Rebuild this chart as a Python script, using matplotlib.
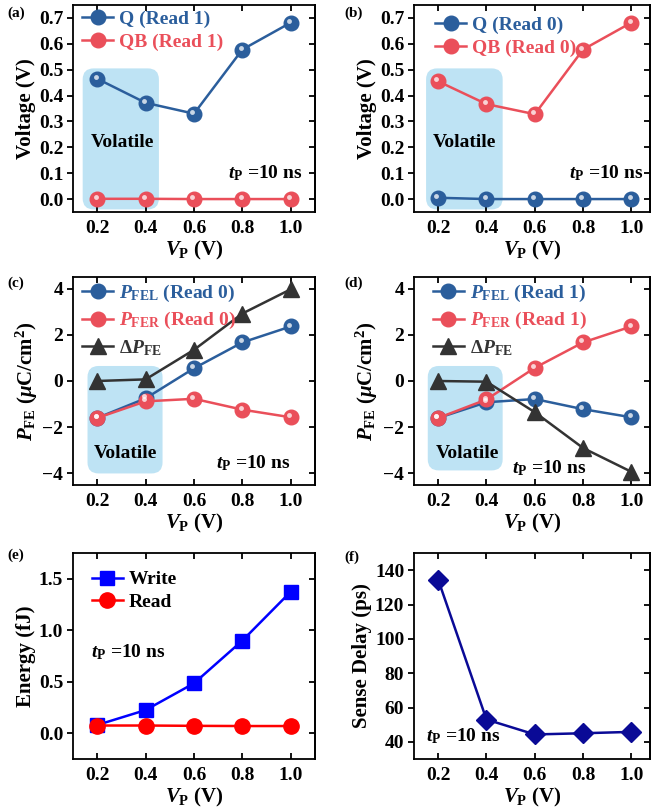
import numpy as np
import matplotlib
matplotlib.use('Agg')
import matplotlib.pyplot as plt
from matplotlib.patches import FancyBboxPatch
from matplotlib import transforms

plt.rcParams['font.family'] = ['Liberation Serif', 'DejaVu Serif']
plt.rcParams['font.weight'] = 'bold'
plt.rcParams['axes.labelweight'] = 'bold'
plt.rcParams['mathtext.fontset'] = 'custom'
plt.rcParams['mathtext.rm'] = 'Liberation Serif:bold'
plt.rcParams['mathtext.it'] = 'Liberation Serif:italic:bold'
plt.rcParams['mathtext.bf'] = 'Liberation Serif:bold'
plt.rcParams['axes.linewidth'] = 1.3
plt.rcParams['xtick.direction'] = 'in'
plt.rcParams['ytick.direction'] = 'out'

vp = [0.2, 0.4, 0.6, 0.8, 1.0]
vp_ticks = ['0.2', '0.4', '0.6', '0.8', '1.0']

# (a) Read 1
q_read1 = [0.465, 0.372, 0.330, 0.578, 0.682]
qb_read1 = [0.001, 0.001, 0.0, 0.0, 0.0]
# (b) Read 0
q_read0 = [0.005, 0.0, 0.0, 0.0, 0.0]
qb_read0 = [0.455, 0.367, 0.328, 0.578, 0.682]
# (c) Read 0
pfel_read0 = [-1.6, -0.75, 0.55, 1.67, 2.36]
pfer_read0 = [-1.6, -0.88, -0.77, -1.24, -1.57]
dp_read0 = [0.0, 0.07, 1.35, 2.92, 3.97]
# (d) Read 1
pfel_read1 = [-1.6, -0.92, -0.78, -1.22, -1.57]
pfer_read1 = [-1.6, -0.8, 0.57, 1.67, 2.36]
dp_read1 = [0.0, -0.03, -1.35, -2.9, -3.93]
# (e) energy
e_write = [0.08, 0.225, 0.485, 0.90, 1.375]
e_read = [0.075, 0.075, 0.072, 0.07, 0.07]
# (f) sense delay
delay = [134.5, 53.0, 44.3, 45.0, 45.8]

BLUE = '#2B5E9C'
RED = '#EA4F5A'
DARK = '#333333'
BOX = '#BEE3F4'

fig = plt.figure(figsize=(6.52, 8.10), dpi=100)
W, H = 652, 810
cols = [(73, 242, 1.1), (414, 236, 1.077)]
rows = [(5, 212), (277, 485), (553, 759)]


def make_ax(col, row):
    top, bot = rows[row]
    left, w, xmax = cols[col]
    ax = fig.add_axes([left / W, (H - bot) / H, w / W, (bot - top) / H])
    ax.set_xlim(0.1, xmax)
    return ax


def style(ax, ylim, yticks, ylabel):
    ax.set_ylim(*ylim)
    ax.set_xticks(vp)
    ax.set_xticklabels(vp_ticks)
    ax.set_yticks(yticks)
    ax.tick_params(axis='both', labelsize=14, length=4, width=1.3, pad=3)
    ax.tick_params(axis='x', top=True, pad=6)
    sec = ax.secondary_yaxis('right')
    sec.set_yticks(yticks)
    sec.tick_params(direction='in', length=4, width=1.3, labelright=False)
    ax.set_xlabel(r'$V_{\rm P}$ (V)', fontsize=15, labelpad=1)
    ax.set_ylabel(ylabel, fontsize=15, labelpad=2)


def vol_box(ax, x0, x1, y0, y1, rad_px=11):
    xr = ax.get_xlim()
    yr = ax.get_ylim()
    bb = ax.get_position()
    xpp = (xr[1] - xr[0]) / (bb.width * W)
    ypp = (yr[1] - yr[0]) / (bb.height * H)
    p = FancyBboxPatch((x0, y0), x1 - x0, y1 - y0,
                       boxstyle='round,pad=0,rounding_size=%f' % (rad_px * xpp),
                       mutation_aspect=ypp / xpp, fc=BOX, ec='none', zorder=0)
    ax.add_patch(p)


def ball(ax, x, y, color, label):
    ln, = ax.plot(x, y, '-o', color=color, lw=1.8, ms=10.5, mec=color, label=label, zorder=3)
    off = transforms.offset_copy(ax.transData, fig=fig, x=-1.2, y=1.4, units='points')
    ax.plot(x, y, 'o', color='white', ms=3.5, mec='none', alpha=0.75, transform=off, zorder=4)
    return ln


def tp_text(ax, x, y, ha='left'):
    ax.text(x, y, r'$t_{\rm P}$ =10 ns', fontsize=14, ha=ha, va='center')


leg_kw = dict(loc='upper left', frameon=False, fontsize=14, handlelength=1.6,
              handletextpad=0.3, borderaxespad=0.2)

# (a)
ax = make_ax(0, 0)
style(ax, (-0.05, 0.75), [0.0, 0.1, 0.2, 0.3, 0.4, 0.5, 0.6, 0.7], 'Voltage (V)')
vol_box(ax, 0.14, 0.455, -0.04, 0.505)
ball(ax, vp, q_read1, BLUE, 'Q (Read 1)')
ball(ax, vp, qb_read1, RED, 'QB (Read 1)')
ax.text(0.305, 0.22, 'Volatile', fontsize=14, ha='center', va='center')
tp_text(ax, 1.05, 0.1, ha='right')
ax.legend(bbox_to_anchor=(-0.01, 1.03), labelspacing=0.25, labelcolor='linecolor', **leg_kw)

# (b)
ax = make_ax(1, 0)
style(ax, (-0.05, 0.75), [0.0, 0.1, 0.2, 0.3, 0.4, 0.5, 0.6, 0.7], 'Voltage (V)')
vol_box(ax, 0.15, 0.467, -0.04, 0.505)
ball(ax, vp, q_read0, BLUE, 'Q (Read 0)')
ball(ax, vp, qb_read0, RED, 'QB (Read 0)')
ax.text(0.311, 0.22, 'Volatile', fontsize=14, ha='center', va='center')
tp_text(ax, 1.05, 0.1, ha='right')
ax.legend(bbox_to_anchor=(0.04, 1.0), labelspacing=0.25, labelcolor='linecolor', **leg_kw)

# (c)
ax = make_ax(0, 1)
style(ax, (-4.5, 4.5), [-4, -2, 0, 2, 4], r'$P_{\rm FE}$ ($\mu$C/cm$^2$)')
vol_box(ax, 0.16, 0.47, -4.0, 0.65)
ball(ax, vp, pfel_read0, BLUE, r'$P_{\rm FEL}$ (Read 0)')
ball(ax, vp, pfer_read0, RED, r'$P_{\rm FER}$ (Read 0)')
ax.plot(vp, dp_read0, '-^', color=DARK, lw=1.8, ms=11, label=r'Δ$P_{\rm FE}$', zorder=3)
ax.text(0.315, -3.13, 'Volatile', fontsize=14, ha='center', va='center')
tp_text(ax, 0.69, -3.55)
ax.legend(bbox_to_anchor=(-0.01, 1.03), labelspacing=0.35, labelcolor='linecolor', **leg_kw)

# (d)
ax = make_ax(1, 1)
style(ax, (-4.5, 4.5), [-4, -2, 0, 2, 4], r'$P_{\rm FE}$ ($\mu$C/cm$^2$)')
vol_box(ax, 0.157, 0.467, -3.87, 0.65)
ball(ax, vp, pfel_read1, BLUE, r'$P_{\rm FEL}$ (Read 1)')
ball(ax, vp, pfer_read1, RED, r'$P_{\rm FER}$ (Read 1)')
ax.plot(vp, dp_read1, '-^', color=DARK, lw=1.8, ms=11, label=r'Δ$P_{\rm FE}$', zorder=3)
ax.text(0.322, -3.13, 'Volatile', fontsize=14, ha='center', va='center')
tp_text(ax, 0.505, -3.78)
ax.legend(bbox_to_anchor=(0.03, 1.03), labelspacing=0.35, labelcolor='linecolor', **leg_kw)

# (e)
ax = make_ax(0, 2)
style(ax, (-0.25, 1.75), [0.0, 0.5, 1.0, 1.5], 'Energy (fJ)')
ax.plot(vp, e_write, '-s', color='#0000FF', lw=1.8, ms=10, label='Write', zorder=3)
ax.plot(vp, e_read, '-o', color='#FF0000', lw=1.8, ms=11, label='Read', zorder=3)
tp_text(ax, 0.175, 0.79)
leg = ax.legend(bbox_to_anchor=(0.03, 0.97), labelspacing=0.25, **leg_kw)
for t in leg.get_texts():
    t.set_color('black')

# (f)
ax = make_ax(1, 2)
style(ax, (30, 150), [40, 60, 80, 100, 120, 140], 'Sense Delay (ps)')
ax.plot(vp, delay, '-D', color='#0A0A96', lw=1.8, ms=10, zorder=3)
tp_text(ax, 0.15, 43.5)

# panel labels
for lab, x, y in [('(a)', 7, 13), ('(b)', 344, 13), ('(c)', 7, 283), ('(d)', 344, 283),
                  ('(e)', 7, 555), ('(f)', 344, 557)]:
    fig.text(x / W, 1 - y / H, lab, fontsize=11, ha='left', va='center')

fig.savefig('out.png', dpi=100)
